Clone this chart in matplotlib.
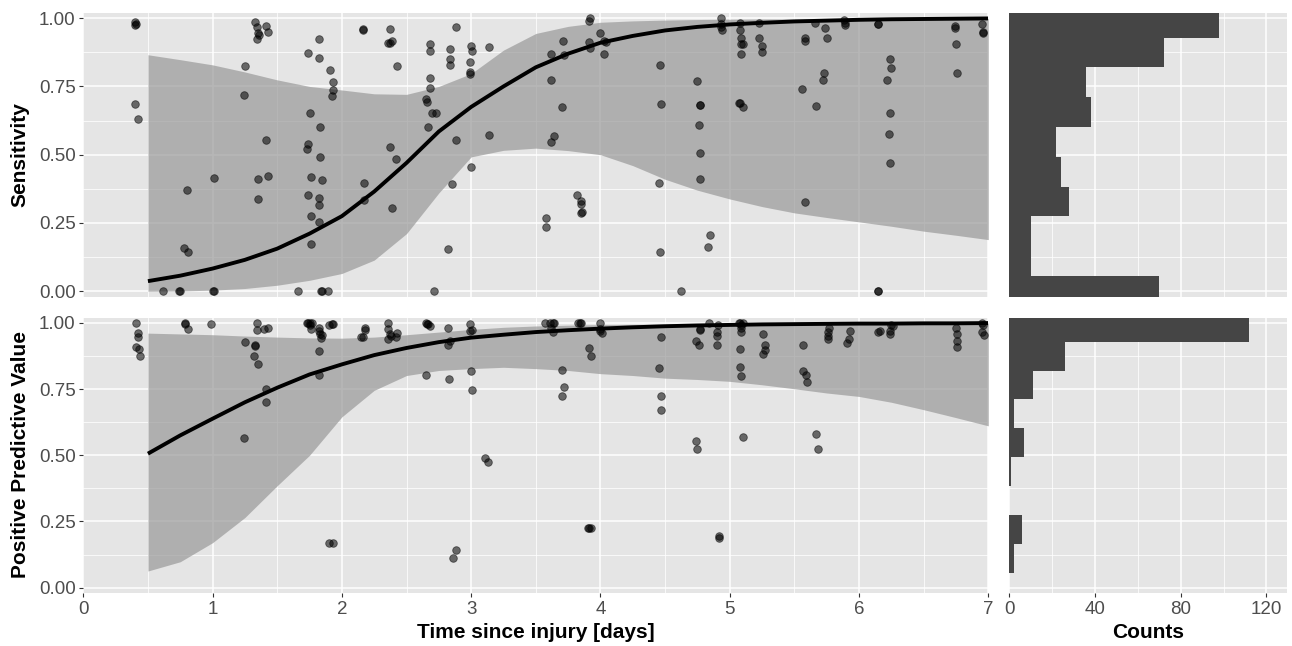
import numpy as np
import matplotlib
matplotlib.use('Agg')
import matplotlib.pyplot as plt
from matplotlib.ticker import MultipleLocator, FixedLocator

plt.rcParams['font.family'] = ['Liberation Sans', 'DejaVu Sans']

# smoothed fit
fit_x = [0.5, 0.75, 1.0, 1.25, 1.5, 1.75, 2.0, 2.25, 2.5, 2.75, 3.0, 3.25, 3.5, 3.75,
         4.0, 4.25, 4.5, 4.75, 5.0, 5.25, 5.5, 5.75, 6.0, 6.25, 6.5, 6.75, 7.0]
sens_fit = [0.037, 0.057, 0.083, 0.115, 0.156, 0.211, 0.275, 0.365, 0.47, 0.585, 0.675, 0.75,
            0.82, 0.87, 0.91, 0.935, 0.955, 0.968, 0.977, 0.983, 0.988, 0.991, 0.994, 0.996,
            0.997, 0.998, 0.999]
sens_hi = [0.866, 0.848, 0.829, 0.803, 0.774, 0.75, 0.737, 0.723, 0.721, 0.75, 0.797, 0.883,
           0.944, 0.97, 0.985, 0.99, 0.993, 0.995, 0.996, 0.997, 0.997, 0.998, 0.998, 0.998,
           0.999, 0.999, 0.999]
sens_lo = [0.0, 0.001, 0.004, 0.01, 0.022, 0.04, 0.065, 0.114, 0.211, 0.36, 0.492, 0.516,
           0.524, 0.515, 0.50, 0.46, 0.41, 0.37, 0.338, 0.31, 0.287, 0.27, 0.254, 0.238,
           0.22, 0.205, 0.189]
ppv_fit = [0.506, 0.575, 0.638, 0.70, 0.755, 0.805, 0.843, 0.878, 0.905, 0.927, 0.944, 0.955,
           0.965, 0.972, 0.978, 0.983, 0.987, 0.99, 0.992, 0.994, 0.995, 0.996, 0.997, 0.997,
           0.998, 0.998, 0.999]
ppv_hi = [0.961, 0.958, 0.955, 0.95, 0.946, 0.943, 0.942, 0.946, 0.955, 0.965, 0.975, 0.983,
          0.988, 0.991, 0.993, 0.994, 0.995, 0.996, 0.997, 0.997, 0.998, 0.998, 0.998, 0.999,
          0.999, 0.999, 0.999]
ppv_lo = [0.063, 0.098, 0.170, 0.265, 0.385, 0.50, 0.645, 0.745, 0.801, 0.82, 0.827, 0.832,
          0.827, 0.82, 0.808, 0.801, 0.791, 0.786, 0.779, 0.766, 0.751, 0.735, 0.722, 0.70,
          0.672, 0.642, 0.611]

# per-subject points
sens_x = [0.40, 0.41, 0.40, 0.40, 0.42, 0.62, 0.74, 0.75, 0.78, 0.81, 0.80, 1.01, 1.00, 1.01,
          1.25, 1.24, 1.33, 1.34, 1.35, 1.36, 1.34, 1.41, 1.43, 1.41, 1.35, 1.43, 1.35,
          1.74, 1.82, 1.82, 1.91, 1.93, 1.93, 1.92, 1.75, 1.83, 1.74, 1.73, 1.83, 1.76, 1.85,
          1.74, 1.82, 1.82, 1.76, 1.82, 1.76, 1.66, 1.84, 1.85, 1.89,
          2.16, 2.16, 2.17, 2.17, 2.37, 2.36, 2.37, 2.39, 2.43, 2.37, 2.42, 2.39,
          2.68, 2.68, 2.68, 2.68, 2.65, 2.66, 2.70, 2.73, 2.67, 2.71, 2.82, 2.88, 2.84, 2.84,
          2.84, 2.88, 2.85, 3.00, 3.01, 2.99, 2.99, 2.99, 3.00, 3.14, 3.14,
          3.62, 3.71, 3.72, 3.62, 3.70, 3.64, 3.62, 3.58, 3.58, 3.82, 3.85, 3.85, 3.85, 3.86,
          3.91, 3.92, 4.00, 3.91, 4.03, 4.04, 3.92, 4.03, 4.46, 4.47, 4.45, 4.46, 4.62,
          4.75, 4.77, 4.77, 4.76, 4.77, 4.77, 4.85, 4.83, 4.93, 4.93, 4.93, 4.94,
          5.08, 5.08, 5.09, 5.09, 5.10, 5.09, 5.07, 5.08, 5.10, 5.23, 5.23, 5.25, 5.25,
          5.56, 5.67, 5.58, 5.58, 5.58, 5.66, 5.74, 5.75, 5.73, 5.72, 5.88, 5.89, 5.89,
          6.15, 6.15, 6.15, 6.15, 6.24, 6.25, 6.22, 6.24, 6.23, 6.24,
          6.74, 6.74, 6.75, 6.76, 6.95, 6.96, 6.96]
sens_y = [0.985, 0.978, 0.975, 0.686, 0.630, 0.0, 0.0, 0.0, 0.157, 0.142, 0.369, 0.414, 0.0, 0.0,
          0.825, 0.718, 0.985, 0.967, 0.945, 0.94, 0.924, 0.972, 0.951, 0.554, 0.41, 0.422, 0.336,
          0.872, 0.924, 0.855, 0.812, 0.765, 0.737, 0.715, 0.652, 0.603, 0.541, 0.522, 0.49, 0.417, 0.407,
          0.354, 0.34, 0.315, 0.274, 0.254, 0.172, 0.0, 0.0, 0.0, 0.0,
          0.96, 0.955, 0.397, 0.334, 0.962, 0.908, 0.908, 0.918, 0.826, 0.53, 0.485, 0.303,
          0.905, 0.881, 0.782, 0.746, 0.704, 0.694, 0.652, 0.652, 0.6, 0.0, 0.155, 0.966, 0.886, 0.85,
          0.829, 0.554, 0.392, 0.898, 0.878, 0.841, 0.804, 0.795, 0.456, 0.894, 0.572,
          0.867, 0.918, 0.864, 0.775, 0.675, 0.570, 0.545, 0.267, 0.237, 0.354, 0.33, 0.321, 0.287, 0.292,
          0.99, 0.999, 0.947, 0.911, 0.918, 0.913, 0.891, 0.869, 0.83, 0.687, 0.396, 0.142, 0.0,
          0.769, 0.683, 0.683, 0.607, 0.505, 0.41, 0.205, 0.162, 0.999, 0.978, 0.966, 0.958,
          0.984, 0.956, 0.928, 0.905, 0.905, 0.868, 0.691, 0.691, 0.675, 0.984, 0.928, 0.899, 0.877,
          0.74, 0.679, 0.325, 0.928, 0.918, 0.983, 0.965, 0.929, 0.798, 0.775, 0.995, 0.974, 0.983,
          0.98, 0.98, 0.0, 0.0, 0.852, 0.817, 0.773, 0.653, 0.574, 0.471,
          0.971, 0.965, 0.904, 0.8, 0.977, 0.95, 0.946]

ppv_x = [0.41, 0.42, 0.42, 0.41, 0.43, 0.44, 0.79, 0.79, 0.81, 0.99,
         1.34, 1.34, 1.25, 1.33, 1.33, 1.32, 1.35, 1.40, 1.43, 1.41, 1.41, 1.24,
         1.73, 1.74, 1.75, 1.77, 1.75, 1.76, 1.82, 1.82, 1.83, 1.85, 1.84, 1.82, 1.82,
         1.90, 1.92, 1.93, 1.90, 1.93, 2.15, 2.16, 2.18, 2.18,
         2.36, 2.36, 2.37, 2.38, 2.36, 2.42, 2.43, 2.65, 2.66, 2.67, 2.68, 2.65,
         2.82, 2.82, 2.84, 2.83, 2.86, 2.88, 2.99, 2.99, 3.01, 3.00, 3.01, 3.11, 3.13,
         3.57, 3.61, 3.63, 3.64, 3.62, 3.63, 3.70, 3.72, 3.70, 3.83, 3.84, 3.85,
         3.91, 3.93, 3.90, 3.91, 3.93, 4.00, 4.00, 4.01, 4.00, 4.47, 4.45, 4.47, 4.47,
         4.74, 4.76, 4.77, 4.77, 4.74, 4.75, 4.84, 4.90, 4.90, 4.91, 4.90, 4.92, 4.92,
         5.07, 5.08, 5.10, 5.09, 5.09, 5.09, 5.08, 5.08, 5.09, 5.10,
         5.26, 5.27, 5.27, 5.26, 5.57, 5.57, 5.59, 5.60, 5.67, 5.68,
         5.76, 5.76, 5.77, 5.76, 5.91, 5.92, 5.93, 6.15, 6.16, 6.24, 6.25, 6.26, 6.24,
         6.75, 6.76, 6.76, 6.76, 6.95, 6.95, 6.97, 6.96]
ppv_y = [1.0, 0.961, 0.946, 0.908, 0.902, 0.874, 1.0, 0.996, 0.975, 0.994,
         1.0, 0.971, 0.926, 0.918, 0.911, 0.874, 0.844, 0.975, 0.981, 0.75, 0.70, 0.565,
         1.0, 1.0, 0.999, 1.0, 0.99, 0.978, 0.98, 0.968, 0.958, 0.955, 0.942, 0.892, 0.804,
         0.99, 0.996, 0.996, 0.17, 0.17, 0.946, 0.946, 0.981, 0.971,
         1.0, 0.975, 0.959, 0.952, 0.94, 0.946, 0.962, 1.0, 0.996, 0.996, 0.987, 0.804,
         0.981, 0.915, 0.933, 0.789, 0.112, 0.141, 0.994, 0.97, 0.974, 0.818, 0.747, 0.491, 0.475,
         1.0, 1.0, 1.0, 1.0, 0.981, 0.967, 0.823, 0.758, 0.724, 1.0, 1.0, 1.0,
         0.903, 0.873, 0.227, 0.227, 0.226, 1.0, 0.975, 0.96, 0.97, 0.947, 0.83, 0.724, 0.671,
         0.931, 0.918, 0.972, 0.977, 0.552, 0.525, 1.0, 0.965, 0.952, 0.99, 0.915, 0.195, 0.187,
         1.0, 1.0, 1.0, 0.99, 0.967, 0.981, 0.902, 0.832, 0.799, 0.570,
         0.957, 0.917, 0.896, 0.881, 0.916, 0.819, 0.803, 0.775, 0.582, 0.525,
         0.952, 0.967, 0.981, 0.938, 0.925, 0.937, 0.97, 0.967, 0.97, 0.956, 0.99, 0.987, 0.97,
         0.981, 0.957, 0.932, 0.91, 1.0, 0.967, 0.955, 0.99]

# marginal histograms (bins from bottom to top)
hist_edges = [-0.0525, 0.0565, 0.1655, 0.2745, 0.3835, 0.4925, 0.6015, 0.7105, 0.8195, 0.9285, 1.0375]
sens_counts = [70, 10, 10, 28, 24, 22, 38, 36, 72, 98]
ppv_counts = [0, 2, 6, 0, 1, 7, 2, 11, 26, 112]

W, H = 1292, 646
fig = plt.figure(figsize=(W / 100, H / 100), dpi=100)

def px_axes(x0, y0, x1, y1):
    return fig.add_axes([x0 / W, 1 - y1 / H, (x1 - x0) / W, (y1 - y0) / H])

ax_s = px_axes(83.3, 12.7, 988.3, 296.7)
ax_p = px_axes(83.3, 317.5, 988.3, 593.0)
hx_s = px_axes(1009.3, 12.7, 1286.7, 296.7)
hx_p = px_axes(1009.3, 317.5, 1286.7, 593.0)

def style(ax):
    ax.set_facecolor('#e5e5e5')
    for sp in ax.spines.values():
        sp.set_visible(False)
    ax.set_axisbelow(True)
    ax.grid(which='major', color='white', lw=1.1)
    ax.grid(which='minor', color='white', lw=0.55)
    ax.tick_params(which='major', length=3, width=0.8, color='#333333',
                   labelsize=13.5, labelcolor='#4d4d4d', pad=2.5)
    ax.tick_params(which='minor', length=0)

for ax, px, py, fit, lo, hi in [(ax_s, sens_x, sens_y, sens_fit, sens_lo, sens_hi),
                                (ax_p, ppv_x, ppv_y, ppv_fit, ppv_lo, ppv_hi)]:
    style(ax)
    ax.fill_between(fit_x, lo, hi, color='#999999', alpha=0.7, lw=0, zorder=2)
    ax.scatter(px, py, s=30, facecolor='black', edgecolor='black', linewidths=0.6,
               alpha=0.55, zorder=3)
    ax.plot(fit_x, fit, color='black', lw=2.8, zorder=4, solid_capstyle='butt')
    ax.set_xlim(0, 7)
    ax.set_ylim(-0.02, 1.02)
    ax.xaxis.set_major_locator(MultipleLocator(1))
    ax.xaxis.set_minor_locator(MultipleLocator(0.5))
    ax.yaxis.set_major_locator(FixedLocator([0, 0.25, 0.5, 0.75, 1.0]))
    ax.yaxis.set_minor_locator(FixedLocator([0.125, 0.375, 0.625, 0.875]))
    ax.set_yticklabels(['0.00', '0.25', '0.50', '0.75', '1.00'])

ax_s.tick_params(axis='x', bottom=False, labelbottom=False)

width = np.diff(hist_edges)
for ax, counts in [(hx_s, sens_counts), (hx_p, ppv_counts)]:
    style(ax)
    ax.barh(hist_edges[:-1], counts, height=width, align='edge', color='#454545', lw=0, zorder=2)
    ax.set_xlim(0, 129.5)
    ax.set_ylim(-0.02, 1.02)
    ax.xaxis.set_major_locator(FixedLocator([0, 40, 80, 120]))
    ax.xaxis.set_minor_locator(FixedLocator([20, 60, 100]))
    ax.yaxis.set_major_locator(FixedLocator([0, 0.25, 0.5, 0.75, 1.0]))
    ax.yaxis.set_minor_locator(FixedLocator([0.125, 0.375, 0.625, 0.875]))
    ax.tick_params(axis='y', left=False, labelleft=False)

hx_s.tick_params(axis='x', bottom=False, labelbottom=False)

fig.text(20 / W, 1 - 154.7 / H, 'Sensitivity', rotation=90, ha='center', va='center',
         fontsize=15, fontweight='bold')
fig.text(21 / W, 1 - 455 / H, 'Positive Predictive Value', rotation=90, ha='center', va='center',
         fontsize=15, fontweight='bold')
fig.text(535.8 / W, 1 - 638 / H, 'Time since injury [days]', ha='center', va='baseline',
         fontsize=15, fontweight='bold')
fig.text(1148 / W, 1 - 638 / H, 'Counts', ha='center', va='baseline',
         fontsize=15, fontweight='bold')

fig.savefig('out.png', dpi=100)
